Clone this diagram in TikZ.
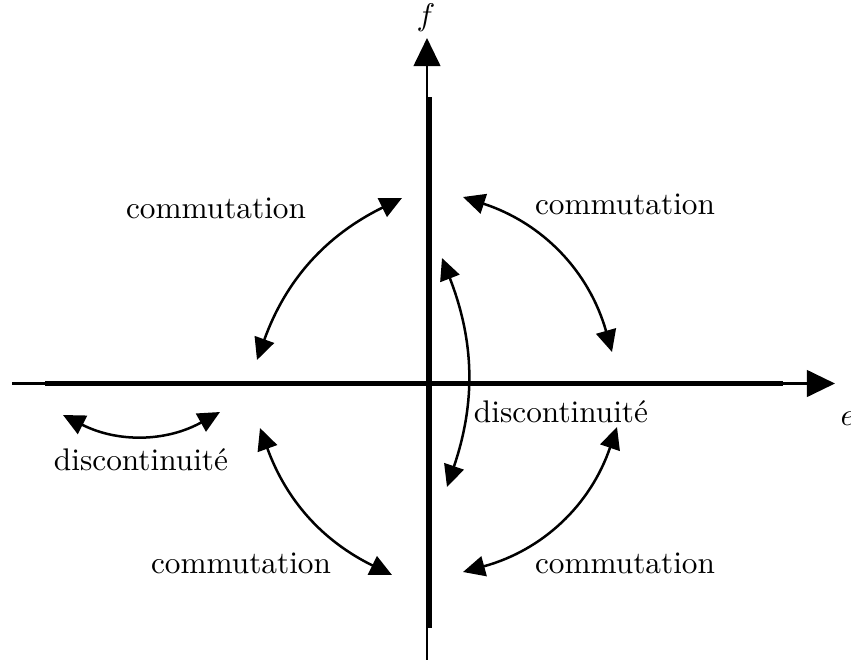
\documentclass[tikz,border=0pt]{standalone}
\usetikzlibrary{arrows.meta}
\begin{document}
\begin{tikzpicture}[x=0.3196pt,y=0.3196pt,
  thinaxis/.style={line width=0.9pt},
  thickaxis/.style={line width=1.9pt},
  axisarrow/.style={-{Triangle[length=9pt,width=8.5pt]}},
  swaparrow/.style={line width=0.8pt,{Triangle[length=7pt,width=6.5pt]}-{Triangle[length=7pt,width=6.5pt]}},
  lbl/.style={anchor=base,inner sep=0pt}]
\useasboundingbox (0,0) rectangle (851,659);
% axes
\coordinate (xl) at (12,275.5);
\coordinate (xr) at (835,275.5);
\coordinate (xtl) at (45,275.5);
\coordinate (xtr) at (783,275.5);
\coordinate (yb) at (427,-5);
\coordinate (yt) at (427,621);
\coordinate (ytb) at (429,31);
\coordinate (ytt) at (429,562);
\draw[thinaxis,axisarrow] (xl) -- (xr);
\draw[thinaxis,axisarrow] (yb) -- (yt);
\draw[thickaxis] (xtl) -- (xtr);
\draw[thickaxis] (ytb) -- (ytt);
\node[inner sep=0pt] (flbl) at (426,641) {$f$};
\node[inner sep=0pt] (elbl) at (848,240) {$e$};
% arrows
\coordinate (ula) at (402,461); \coordinate (ulb) at (257,299);
\coordinate (ura) at (463,462); \coordinate (urb) at (612,307);
\coordinate (lla) at (260,231); \coordinate (llb) at (392,84);
\coordinate (lra) at (617,232); \coordinate (lrb) at (463,87);
\coordinate (ca) at (442,401);  \coordinate (cb) at (447,172);
\coordinate (la) at (63,244);   \coordinate (lb) at (220,247);
\draw[swaparrow] (ula) to[bend right=22] (ulb);
\draw[swaparrow] (ura) to[bend left=28] (urb);
\draw[swaparrow] (lla) to[bend right=22] (llb);
\draw[swaparrow] (lra) to[bend left=28] (lrb);
\draw[swaparrow] (ca) to[bend left=20] (cb);
\draw[swaparrow] (la) to[bend right=28] (lb);
% labels
\node[lbl] (t1) at (216,441) {commutation};
\node[lbl] (t2) at (625,445) {commutation};
\node[lbl] (t3) at (241,86) {commutation};
\node[lbl] (t4) at (625,86) {commutation};
\node[lbl] (t5) at (561,237) {discontinuité};
\node[lbl] (t6) at (141,189) {discontinuité};
\end{tikzpicture}
\end{document}
